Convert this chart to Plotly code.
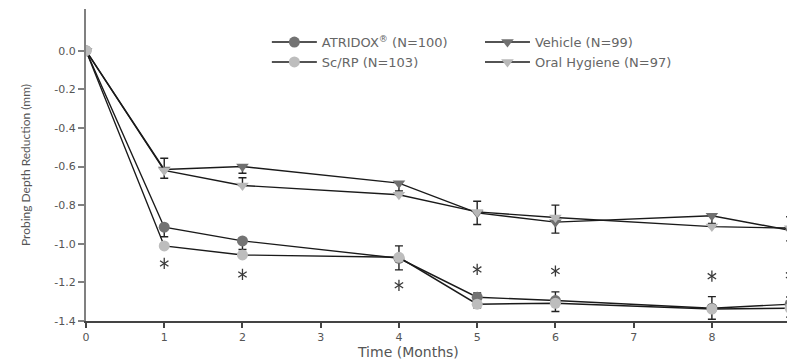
import plotly.graph_objects as go

months = [0, 1, 2, 4, 5, 6, 8, 9]

atridox = [0, -0.914, -0.985, -1.075, -1.277, -1.294, -1.334, -1.313]
atridox_plus = [0, 0, 0, 0.064, 0.022, 0.045, 0.06, 0.037]
atridox_minus = [0, 0.05, 0.045, 0.06, 0.054, 0.057, 0.057, 0.067]

scrp = [0, -1.011, -1.058, -1.07, -1.313, -1.308, -1.338, -1.334]

vehicle = [0, -0.615, -0.60, -0.686, -0.84, -0.888, -0.855, -0.93]
vehicle_plus = [0, 0.058, 0, 0, 0.06, 0.088, 0, 0.07]
vehicle_minus = [0, 0.046, 0.035, 0.04, 0.06, 0.057, 0.04, 0.055]

oral = [0, -0.62, -0.698, -0.746, -0.835, -0.864, -0.911, -0.919]
oral_plus = [0, 0, 0.04, 0, 0, 0, 0, 0]
oral_minus = [0, 0, 0, 0, 0, 0, 0, 0]

# significance asterisks
star_x = [1, 2, 4, 5, 6, 8, 9]
star_y = [-1.102, -1.159, -1.215, -1.133, -1.141, -1.168, -1.163]

names = ["ATRIDOX<sup>\u00ae</sup> (N=100)", "Sc/RP (N=103)", "Vehicle (N=99)", "Oral Hygiene (N=97)"]
x_title = "Time (Months)"
y_title = "Probing Depth Reduction (mm)"
y_ticks = [0, -0.2, -0.4, -0.6, -0.8, -1.0, -1.2, -1.4]
y_ticktext = ["0.0", "-0.2", "-0.4", "-0.6", "-0.8", "-1.0", "-1.2", "-1.4"]
x_ticks = list(range(0, 10))

FONT = "DejaVu Sans"
TXT = "#555555"

fig = go.Figure()

def err(plus, minus):
    return dict(type="data", symmetric=False, array=plus, arrayminus=minus,
                color="#222222", thickness=1.4, width=4)

fig.add_trace(go.Scatter(x=months, y=vehicle, name=names[2], mode="lines+markers",
                         line=dict(color="#1a1a1a", width=1.4),
                         marker=dict(symbol="triangle-down", size=11, color="#707070"),
                         error_y=err(vehicle_plus, vehicle_minus), legend="legend2"))
fig.add_trace(go.Scatter(x=months, y=oral, name=names[3], mode="lines+markers",
                         line=dict(color="#1a1a1a", width=1.4),
                         marker=dict(symbol="triangle-down", size=11, color="#b8b8b8"),
                         error_y=err(oral_plus, oral_minus), legend="legend2"))
fig.add_trace(go.Scatter(x=months, y=atridox, name=names[0], mode="lines+markers",
                         line=dict(color="#1a1a1a", width=1.4),
                         marker=dict(symbol="circle", size=11, color="#737373"),
                         error_y=err(atridox_plus, atridox_minus), legend="legend"))
fig.add_trace(go.Scatter(x=months, y=scrp, name=names[1], mode="lines+markers",
                         line=dict(color="#1a1a1a", width=1.4),
                         marker=dict(symbol="circle", size=11, color="#bdbdbd"),
                         legend="legend"))
for sym in ["y-up-open", "y-down-open"]:
    fig.add_trace(go.Scatter(x=star_x, y=star_y, mode="markers",
                             marker=dict(symbol=sym, size=7, color="#3a3a3a",
                                         line=dict(color="#3a3a3a", width=1.3)),
                             showlegend=False, hoverinfo="skip", cliponaxis=True))

legend_common = dict(font=dict(family=FONT, size=13, color="#666666"),
                     bgcolor="rgba(0,0,0,0)", xanchor="left", yanchor="top",
                     tracegroupgap=0, itemwidth=45)

fig.update_layout(
    width=787, height=363,
    margin=dict(l=86, r=0, t=9, b=42),
    paper_bgcolor="white", plot_bgcolor="white",
    font=dict(family=FONT, color=TXT),
    legend=dict(x=0.258, y=0.942, traceorder="normal", **legend_common),
    legend2=dict(x=0.562, y=0.942, traceorder="normal", **legend_common),
    xaxis=dict(range=[0, 8.96], tickmode="array", tickvals=x_ticks,
               showgrid=False, zeroline=False, showline=True, linecolor="#444444",
               linewidth=1.5, ticks="outside", ticklen=5, tickcolor="#444444",
               tickwidth=1.5, tickfont=dict(family=FONT, size=11, color=TXT)),
    yaxis=dict(range=[-1.4, 0.216], tickmode="array",
               tickvals=y_ticks, ticktext=y_ticktext,
               showgrid=False, zeroline=False, showline=True, linecolor="#808080",
               linewidth=2, ticks="outside", ticklen=6, tickcolor="#808080",
               tickwidth=1.5, tickfont=dict(family=FONT, size=11, color=TXT),
               title=dict(text=y_title,
                          font=dict(family="Lato", size=12, color=TXT), standoff=21)),
    annotations=[dict(text=x_title, x=4.12, xref="x", y=-0.1, yref="paper",
                      yanchor="middle", xanchor="center", showarrow=False,
                      font=dict(family=FONT, size=14, color=TXT))],
)

fig.write_html("out.html")
